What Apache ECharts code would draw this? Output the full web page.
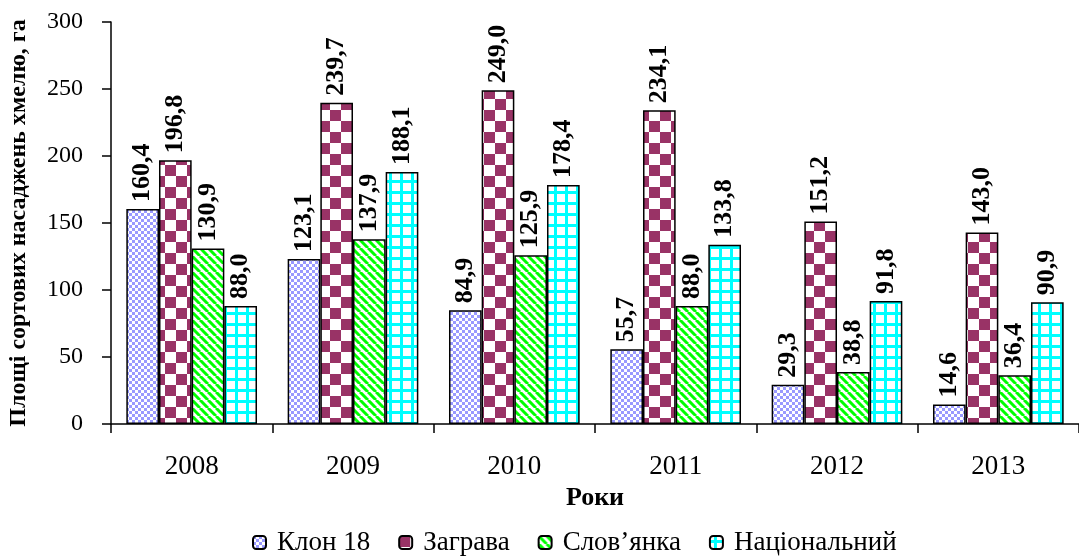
<!DOCTYPE html>
<html>
<head>
<meta charset="utf-8">
<title>Площі сортових насаджень хмелю</title>
<script src="https://cdn.jsdelivr.net/npm/echarts@6/dist/echarts.min.js"></script>
<style>
  html, body { margin: 0; padding: 0; background: #fff; }
  #main { width: 1079px; height: 557px; }
</style>
</head>
<body>
<div id="main"></div>
<script>
// роки
var years = ['2008', '2009', '2010', '2011', '2012', '2013'];
// сорти
var klon18 = [160.4, 123.1, 84.9, 55.7, 29.3, 14.6];
var zagrava = [196.8, 239.7, 249.0, 234.1, 151.2, 143.0];
var slovianka = [130.9, 137.9, 125.9, 88.0, 38.8, 36.4];
var natsionalnyi = [88.0, 188.1, 178.4, 133.8, 91.8, 90.9];
var yTicks = [0, 50, 100, 150, 200, 250, 300];

var serif = '"Liberation Serif", "Times New Roman", serif';

// заливки-візерунки
function makeCanvas(size, draw) {
  var c = document.createElement('canvas');
  c.width = size; c.height = size;
  var ctx = c.getContext('2d');
  ctx.fillStyle = '#fff';
  ctx.fillRect(0, 0, size, size);
  draw(ctx, size);
  return c;
}
var patKlon = makeCanvas(6, function (ctx) {
  ctx.fillStyle = '#9999ff';
  ctx.fillRect(0, 0, 3, 3);
  ctx.fillRect(3, 3, 3, 3);
});
var patZagrava = makeCanvas(22, function (ctx) {
  ctx.fillStyle = '#993366';
  ctx.fillRect(0, 0, 11, 11);
  ctx.fillRect(11, 11, 11, 11);
});
var patSlov = makeCanvas(8, function (ctx) {
  ctx.strokeStyle = '#00ff00';
  ctx.lineWidth = 3;
  ctx.beginPath();
  for (var k = -8; k <= 16; k += 8) {
    ctx.moveTo(k, 0);
    ctx.lineTo(k + 8, 8);
  }
  ctx.stroke();
});
var patNats = makeCanvas(11, function (ctx) {
  ctx.fillStyle = '#00ffff';
  ctx.fillRect(4, 0, 3, 11);
  ctx.fillRect(0, 4, 11, 3);
});

function fmt(p) {
  return p.value.toFixed(1).replace('.', ',');
}

function makeSeries(name, data, pattern) {
  return {
    name: name,
    type: 'bar',
    data: data,
    barGap: '0%',
    barCategoryGap: '19%',
    itemStyle: {
      color: { image: pattern, repeat: 'repeat' },
      borderColor: '#000',
      borderWidth: 1.5
    },
    label: {
      show: true,
      position: 'top',
      rotate: 90,
      align: 'left',
      verticalAlign: 'middle',
      distance: 7,
      formatter: fmt,
      fontFamily: serif,
      fontWeight: 'bold',
      fontSize: 26,
      color: '#000'
    }
  };
}

var option = {
  animation: false,
  backgroundColor: '#fff',
  textStyle: { fontFamily: serif },
  legend: {
    top: 524,
    left: 247,
    itemWidth: 13,
    itemHeight: 13,
    itemGap: 28,
    textStyle: { fontFamily: serif, fontSize: 27, color: '#000', padding: [0, 0, 0, 6] },
    data: ['Клон 18', 'Заграва', 'Слов’янка', 'Національний']
  },
  grid: { left: 111, right: 0, top: 22, bottom: 133, containLabel: false, outerBoundsMode: 'none' },
  xAxis: {
    type: 'category',
    data: years,
    name: 'Роки',
    nameLocation: 'middle',
    nameGap: 59,
    nameTextStyle: { fontFamily: serif, fontWeight: 'bold', fontSize: 26, color: '#000' },
    axisLine: { lineStyle: { color: '#000', width: 1.5 } },
    axisTick: { show: true, length: 9, lineStyle: { color: '#000', width: 1.5 } },
    axisLabel: { fontFamily: serif, fontSize: 27, color: '#000', margin: 29 }
  },
  yAxis: {
    type: 'value',
    min: yTicks[0],
    max: yTicks[yTicks.length - 1],
    interval: 50,
    name: 'Площі сортових насаджень хмелю, га',
    nameLocation: 'middle',
    nameGap: 80,
    nameTextStyle: { fontFamily: serif, fontWeight: 'bold', fontSize: 24, color: '#000' },
    axisLine: { show: true, lineStyle: { color: '#000', width: 1.5 } },
    axisTick: { show: true, length: 9, lineStyle: { color: '#000', width: 1.5 } },
    axisLabel: { fontFamily: serif, fontSize: 24, color: '#000', margin: 28 },
    splitLine: { show: false }
  },
  series: [
    makeSeries('Клон 18', klon18, patKlon),
    makeSeries('Заграва', zagrava, patZagrava),
    makeSeries('Слов’янка', slovianka, patSlov),
    makeSeries('Національний', natsionalnyi, patNats)
  ]
};

echarts.init(document.getElementById('main')).setOption(option);
</script>
</body>
</html>
